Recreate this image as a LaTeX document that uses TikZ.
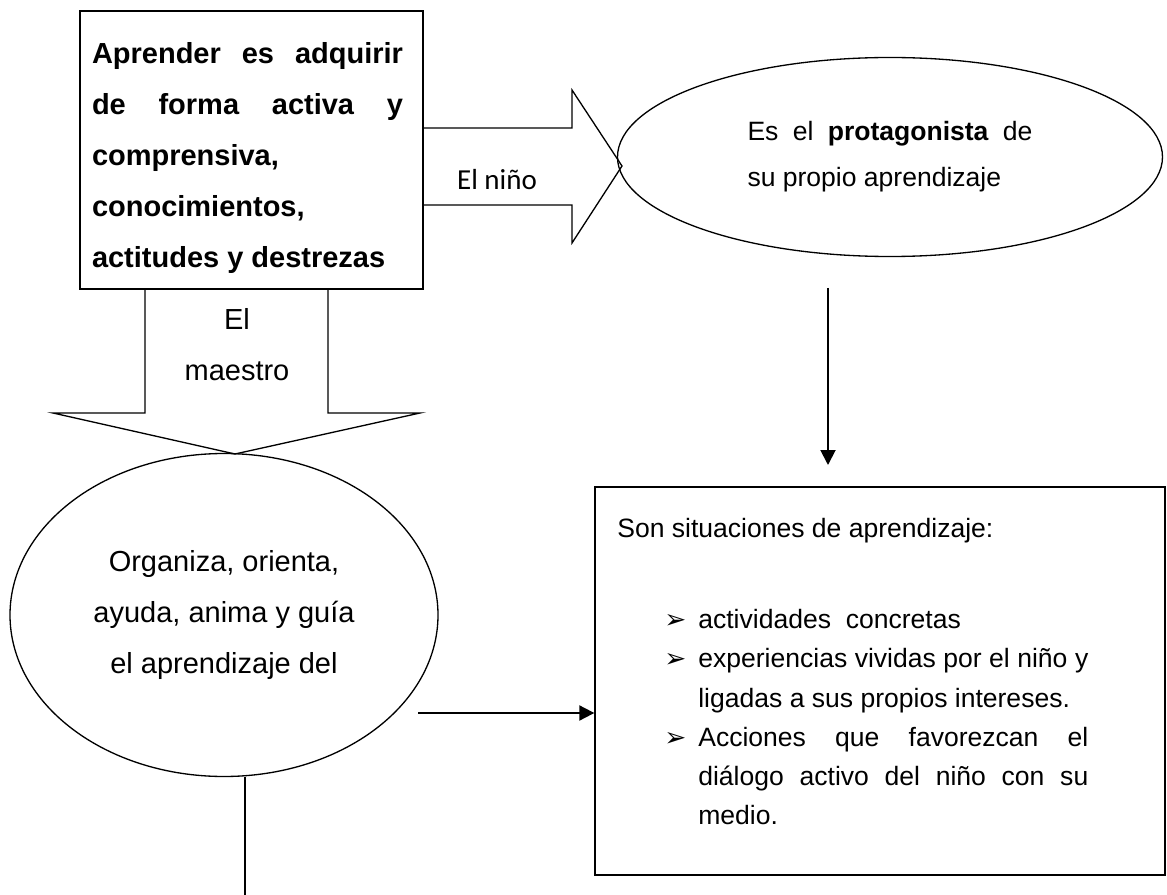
\documentclass[tikz,border=0pt]{standalone}
\usepackage{fontspec}
\setmainfont{Liberation Sans}
\newfontfamily\calfont{Carlito}
\newfontfamily\dingfont{DejaVu Sans}
\usetikzlibrary{arrows.meta, shapes.geometric}
\newlength{\pix}
\setlength{\pix}{0.02cm}
\tikzset{
    x=0.02cm, y=-0.02cm, % one unit = one pixel of the sketch
    every node/.style={inner sep=0pt},
    letra/.style 2 args={font=\fontsize{#1}{#2}\selectfont},
    caja/.style={draw, rectangle, line width=0.75pt},
    globo/.style={draw, ellipse, line width=0.75pt},
    bloque/.style={draw, line width=0.75pt, line join=miter},
    flecha/.style={line width=1.1pt, -{Triangle[length=0.3cm, width=0.3cm]}},
}

\begin{document}
\begin{tikzpicture}
  \useasboundingbox (0,0) rectangle (1167,895);

  \node[caja, minimum width=343\pix, minimum height=278\pix] (aprender) at (251.5,150) {};
  \node[font=\fontsize{16.5}{29}\selectfont\bfseries, text width=311\pix, align=justify] (aprendertxt) at (247.5,158)
        {Aprender es adquirir\linebreak de forma activa y\linebreak comprensiva,\\ conocimientos,\\ actitudes y destrezas};

  % flecha ancha hacia la derecha
  \draw[bloque] (423,128) -- (572,128) -- (572,90) -- (622,166) -- (572,243) -- (572,205) -- (423,205);
  \node[font=\fontsize{16.5}{20}\calfont] (nino) at (497,180) {El niño};

  \node[globo, letra={15.1}{26.2}, minimum width=545\pix, minimum height=199\pix,
        text width=285\pix, align=justify] (protagonista) at (890,157)
        {Es el \textbf{protagonista} de\linebreak su propio aprendizaje};

  \coordinate (bajaA) at (828,288);
  \coordinate (bajaB) at (828,465);
  \draw[flecha] (bajaA) -- (bajaB);

  \node[caja, minimum width=570\pix, minimum height=388\pix] (situaciones) at (880,681) {};
  \node[anchor=north west, text width=471\pix, align=justify, letra={15.1}{22.3}] (lista) at (617,518)
        {\noindent Son situaciones de aprendizaje:\par\vspace{52\pix}
         \begin{list}{\dingfont\fontsize{15}{15}\selectfont ➢}{\setlength{\leftmargin}{81\pix}\setlength{\labelwidth}{24\pix}%
           \setlength{\labelsep}{12\pix}\setlength{\itemsep}{0pt}\setlength{\parsep}{0pt}%
           \setlength{\topsep}{0pt}\setlength{\partopsep}{0pt}\setlength{\itemindent}{0pt}}
         \item actividades\ \ concretas
         \item experiencias vividas por el niño y\linebreak ligadas a sus propios intereses.
         \item Acciones que favorezcan el\linebreak diálogo activo del niño con su\linebreak medio.
         \end{list}};

  % flecha ancha hacia abajo
  \draw[bloque] (145,289) -- (145,413) -- (53,413) -- (235,454) -- (420,413) -- (328,413) -- (328,289);
  \node[letra={16.5}{29}, align=center] (maestro) at (237,345) {El\\ maestro};

  \node[globo, letra={16.5}{29}, minimum width=428\pix, minimum height=323\pix, align=center] (organiza) at (224,615)
        {Organiza, orienta,\\ ayuda, anima y guía\\ el aprendizaje del};

  \coordinate (guia) at (418,713);
  \draw[flecha] (guia) -- (guia -| situaciones.west);

  \coordinate (corte) at (245,895);
  \draw[line width=0.75pt] (organiza.south -| corte) -- (corte);
\end{tikzpicture}
\end{document}
